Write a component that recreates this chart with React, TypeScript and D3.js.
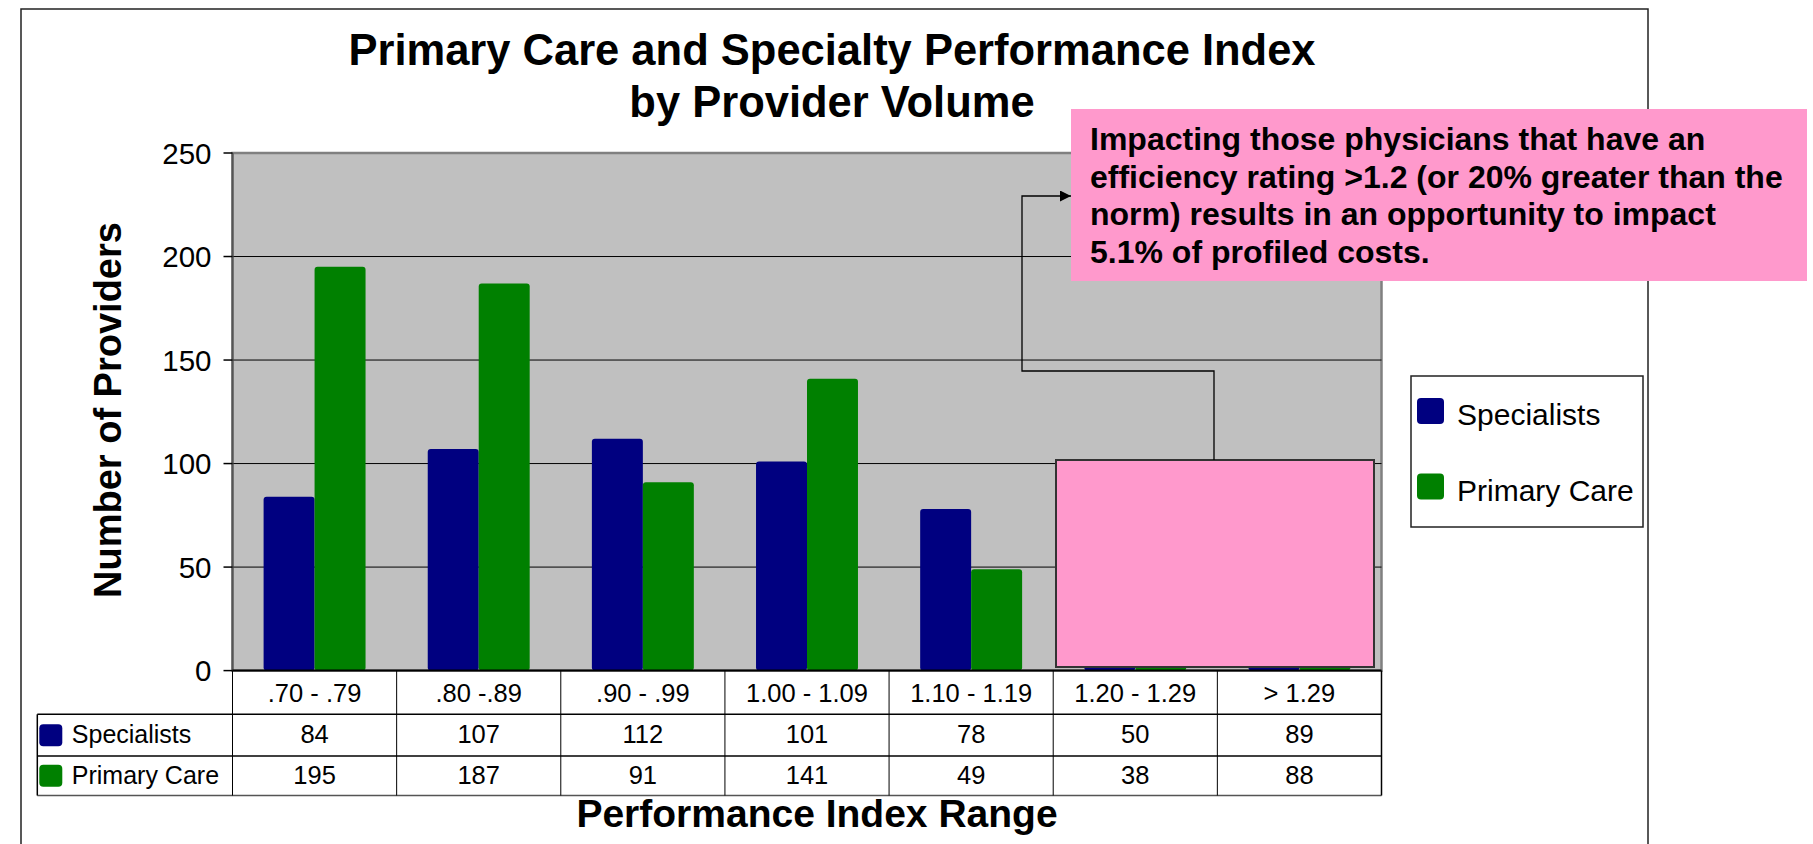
import React from "react";
import * as d3 from "d3";

const categories = [".70 - .79", ".80  -.89", ".90 - .99", "1.00 - 1.09", "1.10 - 1.19", "1.20 - 1.29", "> 1.29"];
const seriesNames = ["Specialists", "Primary Care"];
const specialists = [84, 107, 112, 101, 78, 50, 89];
const primaryCare = [195, 187, 91, 141, 49, 38, 88];
const yTicks = [0, 50, 100, 150, 200, 250];
const titleLines = ["Primary Care and Specialty Performance Index", "by Provider Volume"];
const calloutLines = [
  "Impacting those physicians that have an",
  "efficiency rating >1.2 (or 20% greater than the",
  "norm) results in an opportunity to impact",
  "5.1% of profiled costs.",
];

const COLORS = ["#000080", "#008000"];
const FONT = "'Liberation Sans', Arial, Helvetica, sans-serif";

export default function App() {
  const W = 1813, H = 844;
  const left = 232.5, right = 1381.5, top = 153, bottom = 670.6;
  const x = d3.scaleBand<string>().domain(categories).range([left, right]).paddingInner(0).paddingOuter(0);
  const xs = d3.scaleBand<string>().domain(seriesNames).range([0, x.bandwidth()]).paddingInner(0).paddingOuter(0.61);
  const y = d3.scaleLinear().domain([0, 250]).range([bottom, top]);
  const data = [specialists, primaryCare];

  const rowH = [bottom, 714.3, 756, 795.5];
  const rowBase = [702, 743, 784];
  const tableLeft = 37.3;

  const boxL = 1056, boxT = 460, boxR = 1374, boxB = 667;
  const callL = 1071, callT = 109, callR = 1807, callB = 281;

  return (
    <svg width={W} height={H} style={{ position: "absolute", left: 0, top: 0, background: "#fff" }} fontFamily={FONT}>
      <defs>
        <marker id="arr" viewBox="0 0 10 10" refX="10" refY="5" markerWidth="11" markerHeight="11" markerUnits="userSpaceOnUse" orient="auto">
          <path d="M0,0 L10,5 L0,10 z" fill="#000" />
        </marker>
      </defs>
      <rect x={21} y={9} width={1627} height={H + 20} fill="#fff" stroke="#222" strokeWidth={1.5} />

      {titleLines.map((t, i) => (
        <text key={i} x={832} y={65 + i * 52} textAnchor="middle" fontSize={43.5} fontWeight="bold" fill="#000">{t}</text>
      ))}

      <rect x={left} y={top} width={right - left} height={bottom - top} fill="#C0C0C0" stroke="#808080" strokeWidth={2.5} />
      {yTicks.filter(v => v > 0 && v < 250).map(v => (
        <line key={v} x1={left} x2={right} y1={y(v)} y2={y(v)} stroke="#000" strokeWidth={1} />
      ))}

      {data.map((vals, si) =>
        vals.map((v, ci) => (
          <rect key={`${si}-${ci}`} x={(x(categories[ci]) as number) + (xs(seriesNames[si]) as number)} y={y(v)}
            width={xs.bandwidth()} height={bottom - y(v)} rx={3} fill={COLORS[si]} />
        ))
      )}

      <line x1={left} x2={left} y1={top} y2={bottom} stroke="#555" strokeWidth={2} />
      {yTicks.map(v => (
        <g key={v}>
          <line x1={left - 9} x2={left} y1={y(v)} y2={y(v)} stroke="#000" strokeWidth={1.5} />
          <text x={left - 21} y={y(v)} dy="0.36em" textAnchor="end" fontSize={29.5} fill="#000">{v}</text>
        </g>
      ))}

      <line x1={left} x2={right} y1={bottom} y2={bottom} stroke="#000" strokeWidth={2} />

      <g>
        <line x1={tableLeft} x2={right} y1={rowH[1]} y2={rowH[1]} stroke="#000" strokeWidth={1.5} />
        <line x1={tableLeft} x2={right} y1={rowH[2]} y2={rowH[2]} stroke="#000" strokeWidth={1.5} />
        <line x1={tableLeft} x2={right} y1={rowH[3]} y2={rowH[3]} stroke="#555" strokeWidth={1.5} />
        <line x1={tableLeft} x2={tableLeft} y1={rowH[1]} y2={rowH[3]} stroke="#000" strokeWidth={1.5} />
        {categories.map((c) => (
          <line key={c} x1={x(c) as number} x2={x(c) as number} y1={bottom} y2={rowH[3]} stroke="#000" strokeWidth={1} />
        ))}
        <line x1={right} x2={right} y1={bottom} y2={rowH[3]} stroke="#000" strokeWidth={1.5} />
        {categories.map(c => (
          <text key={c} x={(x(c) as number) + x.bandwidth() / 2} y={rowBase[0]} textAnchor="middle" fontSize={25.5} fill="#000">{c}</text>
        ))}
        {data.map((vals, si) => (
          <g key={si}>
            <rect x={tableLeft + 2} y={(rowH[si + 1] + rowH[si + 2]) / 2 - 11} width={23} height={22} rx={4} fill={COLORS[si]} />
            <text x={tableLeft + 34.5} y={rowBase[si + 1]} fontSize={25} fill="#000">{seriesNames[si]}</text>
            {vals.map((v, ci) => (
              <text key={ci} x={(x(categories[ci]) as number) + x.bandwidth() / 2} y={rowBase[si + 1]} textAnchor="middle" fontSize={25.5} fill="#000">{v}</text>
            ))}
          </g>
        ))}
      </g>

      <text x={817} y={813} dy="0.36em" textAnchor="middle" fontSize={39} fontWeight="bold" fill="#000">Performance Index Range</text>
      <text transform={`translate(107,410) rotate(-90)`} dy="0.36em" textAnchor="middle" fontSize={38} fontWeight="bold" fill="#000">Number of Providers</text>

      <rect x={1411} y={376} width={232} height={151} fill="#fff" stroke="#222" strokeWidth={1.5} />
      {seriesNames.map((s, i) => (
        <g key={s}>
          <rect x={1417} y={398 + i * 75.5} width={27} height={26} rx={4} fill={COLORS[i]} />
          <text x={1457} y={425 + i * 75.5} fontSize={30} fill="#000">{s}</text>
        </g>
      ))}

      <rect x={boxL} y={boxT} width={boxR - boxL} height={boxB - boxT} fill="#FF99CC" stroke="#333" strokeWidth={2} />

      <polyline points={`1214,${boxT} 1214,371 1022,371 1022,196 ${callL},196`} fill="none" stroke="#000" strokeWidth={1.3} markerEnd="url(#arr)" />

      <rect x={callL} y={callT} width={callR - callL} height={callB - callT} fill="#FF99CC" />
      {calloutLines.map((t, i) => (
        <text key={i} x={1090} y={150 + i * 37.5} fontSize={32} fontWeight="bold" fill="#000">{t}</text>
      ))}
    </svg>
  );
}
